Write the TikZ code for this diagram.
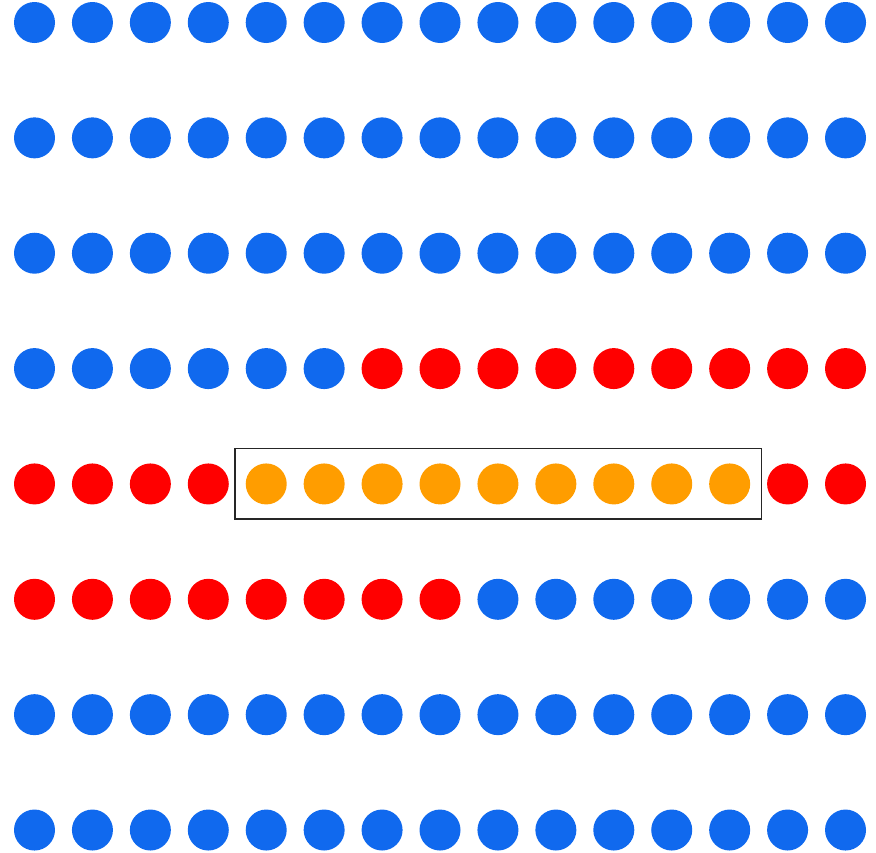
\documentclass[tikz,border=0pt]{standalone}
\definecolor{dotblue}{RGB}{16,105,238}
\definecolor{dotred}{RGB}{255,0,0}
\definecolor{dotorange}{RGB}{255,157,0}
\tikzset{
  dot/.style={circle, inner sep=0pt, minimum size=41pt, draw=none},
  frame/.style={draw=black!85, line width=1.4pt}
}
\begin{document}
\begin{tikzpicture}[x=1pt,y=1pt]
\useasboundingbox (0,0) rectangle (876,-852);
\foreach \r in {0,...,7}{
  \foreach \c in {0,...,14}{
    \pgfmathtruncatemacro{\idx}{\r*15+\c}
    \ifnum\idx<51
      \def\col{dotblue}
    \else\ifnum\idx<64
      \def\col{dotred}
    \else\ifnum\idx<73
      \def\col{dotorange}
    \else\ifnum\idx<83
      \def\col{dotred}
    \else
      \def\col{dotblue}
    \fi\fi\fi\fi
    \node[dot, fill=\col] (d-\r-\c) at ({34.5+57.93*\c},{-22.5-115.36*\r}) {};
  }
}
\draw[frame] (235,-448.5) rectangle (761.5,-519);
\end{tikzpicture}
\end{document}
